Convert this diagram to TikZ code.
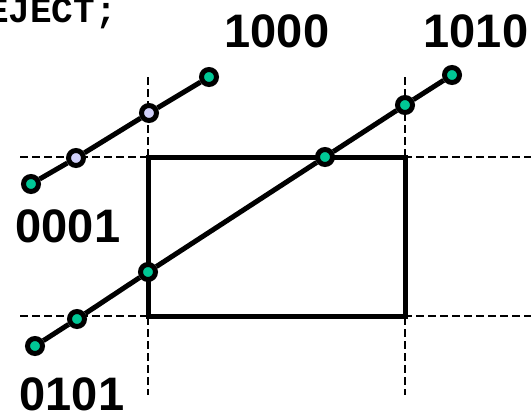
\documentclass[tikz,border=0pt]{standalone}
\usepackage{fontspec}
\setmainfont{Liberation Sans}
\setmonofont{Liberation Mono}
\definecolor{clipgreen}{RGB}{0,200,150}
\definecolor{cliplilac}{RGB}{208,208,250}

\begin{document}
\begin{tikzpicture}[x=1pt,y=-1pt,
  edge/.style={line width=2.2pt,dash pattern=on 8pt off 4pt},
  window/.style={line width=5pt},
  seg/.style={line width=5pt},
  endpt/.style={circle,draw=black,line width=5pt,fill=clipgreen,minimum size=15pt,inner sep=0pt},
  cutpt/.style={endpt,fill=cliplilac},
  code/.style={font=\fontsize{47}{47}\selectfont\bfseries,inner sep=0pt,anchor=base},
  stmt/.style={font=\fontsize{36}{36}\selectfont\ttfamily\bfseries,inner sep=0pt,anchor=base east}]
  \useasboundingbox (0,0) rectangle (531,415);
  % clip window edges, extended
  \coordinate (xl top) at (148,77);  \coordinate (xl bot) at (148,395);
  \coordinate (xr top) at (405,77);  \coordinate (xr bot) at (405,395);
  \coordinate (yt left) at (20,157); \coordinate (yt right) at (531,157);
  \coordinate (yb left) at (20,316); \coordinate (yb right) at (531,316);
  \draw[edge] (xl top) -- (xl bot);
  \draw[edge] (xr top) -- (xr bot);
  \draw[edge] (yt left) -- (yt right);
  \draw[edge] (yb left) -- (yb right);
  % window
  \coordinate (win nw) at (148,157);
  \coordinate (win se) at (405,316);
  \draw[window] (win nw) rectangle (win se);
  % rejected segment
  \node[endpt] (a1) at (31,184) {};
  \node[cutpt] (a2) at (76,158) {};
  \node[cutpt] (a3) at (149,113) {};
  \node[endpt] (a4) at (209,77) {};
  \draw[seg] (a1) -- (a2) -- (a3) -- (a4);
  % clipped segment
  \node[endpt] (b1) at (35,346) {};
  \node[endpt] (b2) at (77,319) {};
  \node[endpt] (b3) at (148,272) {};
  \node[endpt] (b4) at (325,157) {};
  \node[endpt] (b5) at (405,105) {};
  \node[endpt] (b6) at (452,75) {};
  \draw[seg] (b1) -- (b2) -- (b3) -- (b4) -- (b5) -- (b6);
  % outcodes
  \node[code] (c1000) at (277,47) {1000};
  \node[code] (c1010) at (476,47) {1010};
  \node[code] (c0001) at (68,242) {0001};
  \node[code] (c0101) at (72,410) {0101};
  \node[stmt] (reject) at (117,23) {EJECT;};
\end{tikzpicture}
\end{document}
